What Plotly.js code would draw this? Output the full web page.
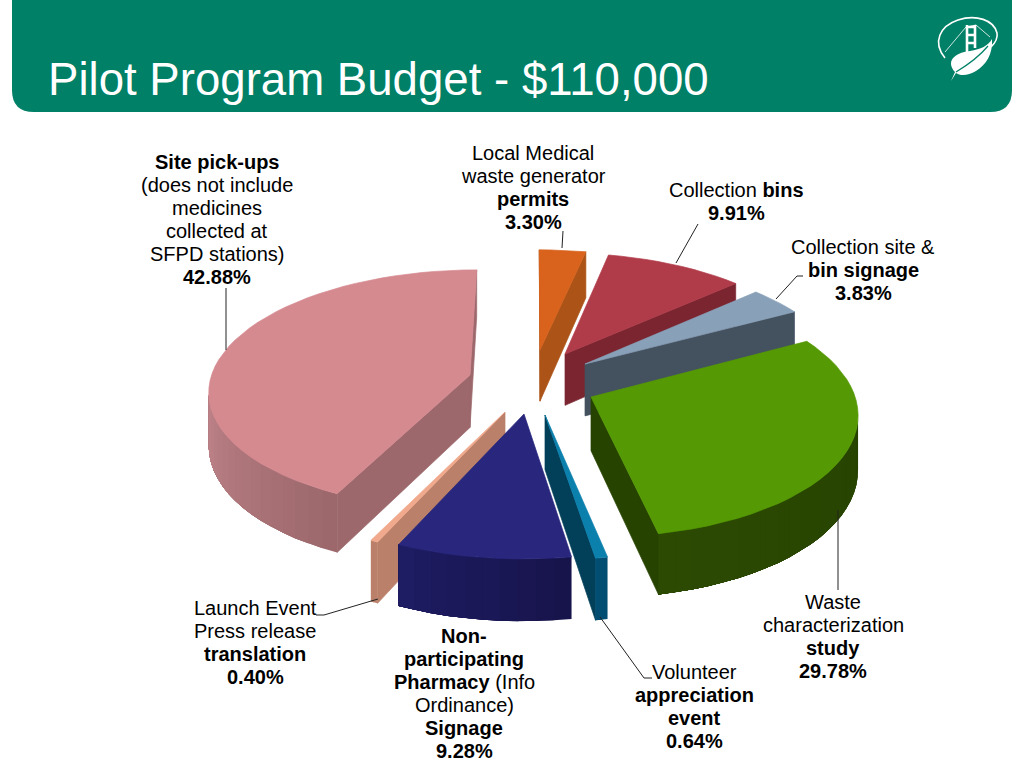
<!DOCTYPE html>
<html>
<head>
<meta charset="utf-8">
<script src="https://cdn.plot.ly/plotly-3.0.1.min.js"></script>
<style>html,body{margin:0;padding:0;background:#fff;overflow:hidden}#chart{width:1024px;height:768px}</style>
</head>
<body>
<div id="chart"></div>
<script>
// ---- chart data ----
var titleText = "Pilot Program Budget - $110,000";
var categories = ["Local Medical waste generator permits","Collection bins","Collection site & bin signage","Waste characterization study","Volunteer appreciation event","Non-participating Pharmacy (Info Ordinance) Signage","Launch Event Press release translation","Site pick-ups (does not include medicines collected at SFPD stations)"];
var values = [3.30, 9.91, 3.83, 29.78, 0.64, 9.28, 0.40, 42.88];
var labelTexts = [
 "Local Medical<br>waste generator<br><b>permits</b><br><b>3.30%</b>",
 "Collection <b>bins</b><br><b>9.91%</b>",
 "Collection site &<br><b>bin signage</b><br><b>3.83%</b>",
 "Waste<br>characterization<br><b>study</b><br><b>29.78%</b>",
 "Volunteer<br><b>appreciation</b><br><b>event</b><br><b>0.64%</b>",
 "<b>Non-</b><br><b>participating</b><br><b>Pharmacy</b> (Info<br>Ordinance)<br><b>Signage</b><br><b>9.28%</b>",
 "Launch Event<br>Press release<br><b>translation</b><br><b>0.40%</b>",
 "<b>Site pick-ups</b><br>(does not include<br>medicines<br>collected at<br>SFPD stations)<br><b>42.88%</b>"
];
// ---- styling and placement ----
var labelX = [533,736,863,833,694,464,255,217];
var labelFirstLineY = [153,190,247,602,672,636,608,162];
var labelLineStep = 23;
var labelSize = 20;
var topColors  = ["#d9631c","#b03b49","#88a0b8","#559a05","#0b80ad","#28267d","#f0a98c","#d58a90"];
var sideColors = ["#ac5318","#7b2530","#445260","#264300","#023f59","#191650","#ba8069","#9c686c"];
var arcFrom    = ["#ac5318","#7b2530","#445260","#264300","#024e72","#17144c","#ba8069","#9c686c"];
var arcTo      = ["#ac5318","#7b2530","#445260","#2c4a02","#024e72","#1e1c62","#ba8069","#bd8388"];
var apexX = [540,565,585,591,545,524,505,470];
var apexY = [350,354,364,397,415,414,412,375];
var paintOrder = [0,1,2,7,3,6,5,4];
var wallHeight = 53;
var view = {cx:533, cy:385, sx:261, sy:120, persp:0.12};
var leaders = [
 "M226,288 L226,350",
 "M563,231 L562,248",
 "M698,224 L676,263",
 "M803,276 L797,276 L776,299",
 "M838,510 L838,590",
 "M652,678 L644,678 L600,617",
 "M316,615 L324,615 L378,599"
];

function project(u,v){
  var den = 1+view.persp*v;
  return {x:view.cx+view.sx*u/den, y:view.cy-view.sy*v/den, d:wallHeight/den};
}
function planeOf(x,y){
  var ny=(view.cy-y)/view.sy, v=ny/(1-view.persp*ny);
  return {u:(x-view.cx)/view.sx*(1+view.persp*v), v:v};
}
function hex(c){return [1,3,5].map(function(i){return parseInt(c.substr(i,2),16);});}
function mix(a,b,t){var A=hex(a),B=hex(b);return "rgb("+A.map(function(x,i){return Math.round(x+(B[i]-x)*t);}).join(",")+")";}
function poly(pts,color,lw){
  return {type:"scatter",mode:"lines",x:pts.map(function(p){return p.x;}).concat([pts[0].x]),
    y:pts.map(function(p){return p.y;}).concat([pts[0].y]),fill:"toself",fillcolor:color,
    line:{color:color,width:lw===undefined?0.7:lw},hoverinfo:"skip",showlegend:false};
}
function drop(p){return {x:p.x,y:p.y+p.d};}

var total = values.reduce(function(a,b){return a+b;},0);
var startAngles=[],acc=0;
values.forEach(function(v){startAngles.push(acc/total*2*Math.PI);acc+=v;});

var traces=[];
paintOrder.forEach(function(i){
  var a0=startAngles[i], a1=a0+values[i]/total*2*Math.PI;
  var base=planeOf(apexX[i],apexY[i]), apex=project(base.u,base.v);
  var n=Math.max(2,Math.ceil((a1-a0)/0.06)), arc=[];
  for(var k=0;k<=n;k++){
    var t=a0+(a1-a0)*k/n;
    arc.push(project(base.u+Math.sin(t),base.v+Math.cos(t)));
  }
  var S=arc[0],E=arc[n];
  function front(P,Q){
    if(Math.abs(P.x-apex.x)<0.01)return false;
    var ly=apex.y+(Q.x-apex.x)*(P.y-apex.y)/(P.x-apex.x);
    return Q.y<ly;
  }
  if(front(S,E)) traces.push(poly([apex,S,drop(S),drop(apex)],sideColors[i]));
  if(front(E,S)) traces.push(poly([apex,E,drop(E),drop(apex)],sideColors[i]));
  var vis=[];
  for(k=0;k<n;k++) if(arc[k+1].x<arc[k].x) vis.push(k);
  if(vis.length){
    var first=vis[0], last=vis[vis.length-1]+1, bands=Math.min(18,vis.length);
    // each colour band covers the remaining wall, so the next band overpaints without seams
    for(var b=0;b<bands;b++){
      var from=first+Math.round((last-first)*b/bands);
      var c=mix(arcFrom[i],arcTo[i],bands>1?b/(bands-1):0);
      var upper=arc.slice(from,last+1), lower=upper.map(drop).reverse();
      traces.push(poly(upper.concat(lower),c,0));
    }
  }
  traces.push(poly([apex].concat(arc),topColors[i],0.7));
});

var annotations=[];
labelTexts.forEach(function(t,i){
  t.split("<br>").forEach(function(line,j){
    annotations.push({text:line,x:labelX[i],y:labelFirstLineY[i]+j*labelLineStep,xref:"x",yref:"y",xanchor:"center",yanchor:"middle",
      showarrow:false,align:"center",font:{family:"Liberation Sans, Arial, sans-serif",size:labelSize,color:"#000"}});
  });
});
annotations.push({text:titleText,x:46,y:79,xref:"x",yref:"y",xanchor:"left",yanchor:"middle",showarrow:false,
  font:{family:"Liberation Sans, Arial, sans-serif",size:45.6,color:"#fff"}});

var shapes=[{type:"path",layer:"below",xref:"x",yref:"y",fillcolor:"#008066",line:{width:0},
  path:"M12,0 L1012,0 L1012,90 Q1012,112 990,112 L34,112 Q12,112 12,90 Z"}];
leaders.forEach(function(p){
  shapes.push({type:"path",xref:"x",yref:"y",path:p,line:{color:"#222",width:1}});
});
// logo
shapes.push({type:"path",xref:"x",yref:"y",line:{color:"#fff",width:1.6},
  path:"M945,58 C932,42 940,26 958,20 C976,14 994,20 997,33 C998,38 995,43 991,47"});
shapes.push({type:"path",xref:"x",yref:"y",line:{color:"#fff",width:0.8},path:"M945,52 L966,27 L976,25 L990,37"});
shapes.push({type:"path",xref:"x",yref:"y",line:{color:"#fff",width:2.6},path:"M967,25 L967,52 M975,25 L975,48 M967,27 L975,27 M967,35 L975,35 M967,43 L975,43"});
shapes.push({type:"path",xref:"x",yref:"y",line:{width:0},fillcolor:"#fff",
  path:"M951,81 L955,72 C946,62 953,53 970,51 C981,49 988,46 992,39 C993,54 986,65 976,71 C968,76 960,76 956,73 Z"});
shapes.push({type:"path",xref:"x",yref:"y",line:{color:"#008066",width:1.2},path:"M956,72 C966,66 978,58 988,46"});

var layout={width:1024,height:768,margin:{l:0,r:0,t:0,b:0},paper_bgcolor:"#fff",plot_bgcolor:"#fff",showlegend:false,
  xaxis:{range:[0,1024],visible:false,fixedrange:true},
  yaxis:{range:[768,0],visible:false,fixedrange:true},
  annotations:annotations,shapes:shapes};
Plotly.newPlot("chart",traces,layout,{displayModeBar:false,staticPlot:true});
</script>
</body>
</html>
